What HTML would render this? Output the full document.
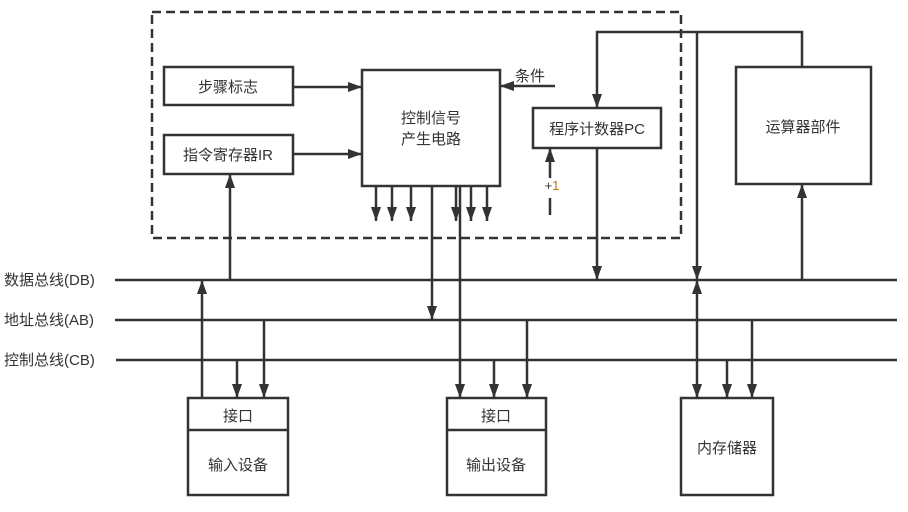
<!DOCTYPE html>
<html><head><meta charset="utf-8"><style>
body{margin:0;background:#fff;width:908px;height:507px;overflow:hidden}
text{font-family:"Liberation Sans","Noto Sans CJK SC",sans-serif;font-size:15px;fill:#333}
</style></head><body>
<svg width="908" height="507" viewBox="0 0 908 507" xmlns="http://www.w3.org/2000/svg">
<defs>
<marker id="a" viewBox="0 0 14 10" refX="14" refY="5" markerWidth="5.6" markerHeight="4" orient="auto-start-reverse" markerUnits="strokeWidth"><path d="M0,0 L14,5 L0,10 z" fill="#333"/></marker>
</defs>
<g stroke="#333" stroke-width="2.5" fill="none">
<rect x="152" y="12" width="529" height="226" stroke-dasharray="9,5"/>
<rect x="164" y="67" width="129" height="38"/>
<rect x="164" y="135" width="129" height="39"/>
<rect x="362" y="70" width="138" height="116"/>
<rect x="533" y="108" width="128" height="40"/>
<rect x="736" y="67" width="135" height="117"/>
<rect x="188" y="398" width="100" height="97"/>
<line x1="188" y1="430" x2="288" y2="430"/>
<rect x="447" y="398" width="99" height="97"/>
<line x1="447" y1="430" x2="546" y2="430"/>
<rect x="681" y="398" width="92" height="97"/>
<line x1="115" y1="280" x2="897" y2="280"/>
<line x1="115" y1="320" x2="897" y2="320"/>
<line x1="116" y1="360" x2="897" y2="360"/>
<line x1="293" y1="87" x2="362" y2="87" marker-end="url(#a)"/>
<line x1="293" y1="154" x2="362" y2="154" marker-end="url(#a)"/>
<line x1="555" y1="86" x2="500" y2="86" marker-end="url(#a)"/>
<polyline points="802,67 802,32 597,32 597,108" marker-end="url(#a)"/>
<line x1="550" y1="215" x2="550" y2="198"/>
<line x1="550" y1="178" x2="550" y2="148" marker-end="url(#a)"/>
<line x1="597" y1="148" x2="597" y2="280" marker-end="url(#a)"/>
<line x1="802" y1="280" x2="802" y2="184" marker-end="url(#a)"/>
<line x1="697" y1="32" x2="697" y2="280" marker-end="url(#a)"/>
<line x1="697" y1="398" x2="697" y2="280" marker-end="url(#a)" marker-start="url(#a)"/>
<line x1="727" y1="360" x2="727" y2="398" marker-end="url(#a)"/>
<line x1="752" y1="320" x2="752" y2="398" marker-end="url(#a)"/>
<line x1="376" y1="186" x2="376" y2="221" marker-end="url(#a)"/>
<line x1="392" y1="186" x2="392" y2="221" marker-end="url(#a)"/>
<line x1="411" y1="186" x2="411" y2="221" marker-end="url(#a)"/>
<line x1="456" y1="186" x2="456" y2="221" marker-end="url(#a)"/>
<line x1="471" y1="186" x2="471" y2="221" marker-end="url(#a)"/>
<line x1="487" y1="186" x2="487" y2="221" marker-end="url(#a)"/>
<line x1="432" y1="186" x2="432" y2="320" marker-end="url(#a)"/>
<line x1="460" y1="186" x2="460" y2="398" marker-end="url(#a)"/>
<line x1="494" y1="360" x2="494" y2="398" marker-end="url(#a)"/>
<line x1="527" y1="320" x2="527" y2="398" marker-end="url(#a)"/>
<line x1="230" y1="280" x2="230" y2="174" marker-end="url(#a)"/>
<line x1="202" y1="398" x2="202" y2="280" marker-end="url(#a)"/>
<line x1="237" y1="360" x2="237" y2="398" marker-end="url(#a)"/>
<line x1="264" y1="320" x2="264" y2="398" marker-end="url(#a)"/>
</g>
<text x="228" y="92" text-anchor="middle">步骤标志</text>
<text x="228" y="160" text-anchor="middle">指令寄存器IR</text>
<text x="431" y="123" text-anchor="middle">控制信号</text>
<text x="431" y="144" text-anchor="middle">产生电路</text>
<text x="530" y="81" text-anchor="middle">条件</text>
<text x="597" y="134" text-anchor="middle">程序计数器PC</text>
<text x="803" y="132" text-anchor="middle">运算器部件</text>
<text x="552" y="190" text-anchor="middle" style="font-size:13px"><tspan>+</tspan><tspan style="fill:#c07000">1</tspan></text>
<text x="4" y="285">数据总线(DB)</text>
<text x="4" y="325">地址总线(AB)</text>
<text x="4" y="365">控制总线(CB)</text>
<text x="238" y="421" text-anchor="middle">接口</text>
<text x="238" y="470" text-anchor="middle">输入设备</text>
<text x="496" y="421" text-anchor="middle">接口</text>
<text x="496" y="470" text-anchor="middle">输出设备</text>
<text x="727" y="453" text-anchor="middle">内存储器</text>
</svg>
</body></html>
